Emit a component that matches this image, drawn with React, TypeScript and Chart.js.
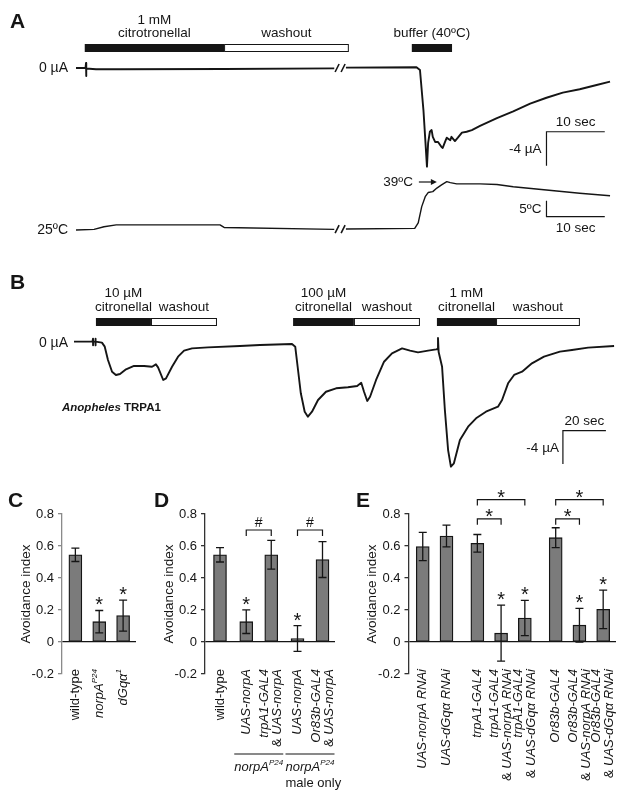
import { useEffect, useRef } from "react";
import { Chart, registerables } from "chart.js";

Chart.register(...registerables);

const FONT = '"Liberation Sans", Arial, Helvetica, sans-serif';
const INK = "#151515";
const BAR_FILL = "#7b7b7b";

// ---------------- Panel A: current (µA) and bath temperature (ºC) vs time (s) ----------------
const timeA = [0, 1.63, 1.72, 1.72, 1.8, 3.43, 7.55, 25.4, 44.3, 45.3, 46.3, 58.4, 59.0, 59.6, 60.2, 60.4, 60.7, 61.0, 61.2, 61.6, 62.1, 62.7, 62.9, 63.3, 63.6, 64.2, 64.4, 65.0, 65.5, 66.2, 67.0, 67.9, 69.3, 72.2, 75.0, 77.9, 80.7, 83.5, 86.4, 89.3, 91.6];
const currentA = [0, 0, 0.59, -0.94, -0.06, -0.14, -0.15, -0.12, -0.04, null, 0.04, 0.08, -0.24, -5.0, -11.6, -8.8, -7.5, -7.3, -8.1, -8.7, -8.7, -9.3, -9.4, -8.7, -8.2, -8.5, -8.1, -8.6, -8.2, -7.6, -7.5, -7.3, -6.8, -5.9, -5.1, -4.2, -3.5, -2.9, -2.5, -2.0, -1.6];
const timeTempA = [0, 3.1, 4.8, 6.9, 24.7, 25.4, 44.3, 45.3, 46.3, 58.1, 58.7, 59.3, 59.9, 60.4, 61.2, 61.9, 62.7, 63.6, 64.2, 65.3, 69.3, 72.2, 75.0, 80.7, 86.4, 91.6];
const tempA = [25, 25.2, 26.0, 26.6, 26.6, 25.8, 25.2, null, 25.3, 25.5, 27.2, 32.3, 35.4, 36.7, 37.0, 38.1, 39.1, 40.1, 39.8, 39.4, 39.4, 39.2, 38.5, 37.5, 36.5, 35.7];
const breakTimeA = [45.3];
const stimStartA = [1.5, 25.4, 57.6];
const stimEndA = [25.4, 46.8, 64.5];
const stimFilledA = [true, false, true];
const stimLabelA = ["1 mM\ncitrotronellal", "washout", "buffer (40ºC)"];

// ---------------- Panel B: Anopheles TRPA1 current (µA) vs time (s) ----------------
const timeB = [0, 8.6, 8.84, 8.84, 8.9, 9.9, 10.0, 10.0, 10.1, 13.0, 14.3, 15.8, 17.7, 19.5, 21.4, 24.2, 27.9, 32.6, 36.3, 38.1, 39.1, 41.5, 42.8, 45.6, 48.4, 51.2, 54.9, 62.3, 77.2, 86.5, 101.4, 102.9, 104.2, 105.5, 107.3, 108.8, 110.7, 113.5, 117.2, 121.9, 127.4, 131.7, 133.6, 134.9, 136.4, 137.7, 140.5, 144.2, 147.9, 152.6, 156.3, 160.0, 164.7, 168.4, 169.1, 169.3, 169.6, 171.2, 172.5, 174.0, 175.3, 176.7, 179.5, 183.3, 187.0, 191.6, 197.2, 199.1, 201.9, 204.7, 208.4, 213.0, 218.6, 226.0, 231.6, 239.1, 251.2];
const currentB = [0.04, 0.04, 0.4, -0.4, 0.04, 0.04, 0.4, -0.4, 0.04, -0.08, -0.56, -2.16, -3.57, -3.96, -3.84, -3.28, -2.88, -2.88, -2.97, -2.68, -3.04, -4.56, -4.36, -2.97, -1.76, -1.04, -0.76, -0.64, -0.48, -0.36, -0.24, -0.56, -3.36, -6.16, -8.37, -8.97, -8.37, -6.96, -5.97, -5.56, -5.44, -5.28, -4.89, -5.97, -7.08, -6.57, -4.56, -2.37, -1.36, -0.76, -1.04, -1.24, -1.04, -0.88, -0.84, 0.48, -1.2, -2.97, -8.16, -12.97, -14.97, -14.56, -11.76, -10.17, -9.16, -8.37, -7.77, -6.96, -4.96, -3.96, -3.57, -2.56, -1.76, -1.16, -0.96, -0.68, -0.48];
const stimStartB = [10.2, 35.8, 101.9, 130.2, 168.8, 196.3];
const stimEndB = [35.8, 66.5, 130.2, 160.9, 196.3, 235.3];
const stimFilledB = [true, false, true, false, true, false];
const stimLabelB = ["10 µM\ncitronellal", "washout", "100 µM\ncitronellal", "washout", "1 mM\ncitronellal", "washout"];

// ---------------- Panel C ----------------
const categoriesC = ["wild-type", "norpA^P24", "dGqα^1"];
const meansC = [0.545, 0.127, 0.165];
const errC = [0.042, 0.07, 0.097];
const sigC = [false, true, true];
const groupsC = [0, 0, 0];

// ---------------- Panel D ----------------
const categoriesD = ["wild-type", "UAS-norpA", "trpA1-GAL4\n& UAS-norpA", "UAS-norpA", "Or83b-GAL4\n& UAS-norpA"];
const meansD = [0.545, 0.127, 0.545, 0.022, 0.515];
const errD = [0.045, 0.074, 0.09, 0.08, 0.112];
const sigD = [false, true, false, true, false];
const groupsD = [0, 1, 1, 2, 2];
const groupLabelD = ["", "norpA^P24", "norpA^P24\nmale only"];
const bracketPairsD = [[1, 2], [3, 4]];
const bracketMarkD = ["#", "#"];
const bracketLevelD = [0.7, 0.7];

// ---------------- Panel E ----------------
const categoriesE = ["UAS-norpA RNAi", "UAS-dGqα RNAi", "trpA1-GAL4", "trpA1-GAL4\n& UAS-norpA RNAi", "trpA1-GAL4\n& UAS-dGqα RNAi", "Or83b-GAL4", "Or83b-GAL4\n& UAS-norpA RNAi", "Or83b-GAL4\n& UAS-dGqα RNAi"];
const meansE = [0.597, 0.662, 0.617, 0.055, 0.15, 0.652, 0.105, 0.204];
const errE = [0.088, 0.068, 0.055, 0.175, 0.11, 0.062, 0.105, 0.12];
const sigE = [false, false, false, true, true, false, true, true];
const groupsE = [0, 0, 1, 1, 1, 2, 2, 2];
const bracketPairsE = [[2, 3], [2, 4], [5, 6], [5, 7]];
const bracketMarkE = ["*", "*", "*", "*"];
const bracketLevelE = [0.77, 0.89, 0.77, 0.89];

// ---------------- helpers ----------------
type Seg = { text: string; italic: boolean; sup: boolean };
const PLAIN = new Set(["wild-type", "&", "male", "only"]);

function fnt(size: number, italic = false, bold = false) {
  return `${italic ? "italic " : ""}${bold ? "bold " : ""}${size}px ${FONT}`;
}

function parseRich(line: string): Seg[] {
  const segs: Seg[] = [];
  line.split(" ").forEach((w, wi) => {
    const plain = PLAIN.has(w);
    const [base, sup] = w.split("^");
    segs.push({ text: (wi > 0 ? " " : "") + base, italic: !plain, sup: false });
    if (sup) segs.push({ text: sup, italic: !plain, sup: true });
  });
  return segs;
}

function drawRich(ctx: any, line: string, x: number, y: number, size: number, align: string) {
  const segs = parseRich(line);
  let total = 0;
  for (const s of segs) {
    ctx.font = fnt(s.sup ? size * 0.62 : size, s.italic);
    total += ctx.measureText(s.text).width;
  }
  let cx = align === "left" ? x : align === "right" ? x - total : x - total / 2;
  ctx.textAlign = "left";
  ctx.textBaseline = "middle";
  for (const s of segs) {
    ctx.font = fnt(s.sup ? size * 0.62 : size, s.italic);
    ctx.fillText(s.text, cx, s.sup ? y - size * 0.36 : y);
    cx += ctx.measureText(s.text).width;
  }
}

function txt(ctx: any, s: string, x: number, y: number, align: string, size = 13.5) {
  ctx.font = fnt(size);
  ctx.textAlign = align;
  ctx.textBaseline = "middle";
  ctx.fillText(s, x, y);
}

function letter(ctx: any, s: string, x: number, baseline: number) {
  ctx.font = fnt(21, false, true);
  ctx.textAlign = "left";
  ctx.textBaseline = "alphabetic";
  ctx.fillText(s, x, baseline);
}

function drawStim(ctx: any, xs: any, starts: number[], ends: number[], filled: boolean[], labels: string[], barTop: number, barH: number, textY: number, lineGap: number) {
  for (let i = 0; i < starts.length; i++) {
    const x0 = xs.getPixelForValue(starts[i]);
    const x1 = xs.getPixelForValue(ends[i]);
    if (filled[i]) {
      ctx.fillStyle = INK;
      ctx.fillRect(x0, barTop, x1 - x0, barH);
    } else {
      ctx.fillStyle = "#fff";
      ctx.fillRect(x0, barTop, x1 - x0, barH);
      ctx.strokeStyle = INK;
      ctx.lineWidth = 1;
      ctx.strokeRect(x0 + 0.5, barTop + 0.5, x1 - x0 - 1, barH - 1);
    }
    ctx.fillStyle = INK;
    const lines = labels[i].split("\n");
    lines.forEach((ln, k) => txt(ctx, ln, (x0 + x1) / 2, textY - (lines.length - 1 - k) * lineGap, "center"));
  }
}

function scaleBar(ctx: any, cx: number, cy: number, hx: number, vy: number) {
  ctx.strokeStyle = INK;
  ctx.lineWidth = 1.2;
  ctx.beginPath();
  ctx.moveTo(hx, cy);
  ctx.lineTo(cx, cy);
  ctx.lineTo(cx, vy);
  ctx.stroke();
}

function slashes(ctx: any, x: number, y: number) {
  ctx.strokeStyle = INK;
  ctx.lineWidth = 1.6;
  ctx.beginPath();
  for (const dx of [-3, 3]) {
    ctx.moveTo(x + dx - 2, y + 4);
    ctx.lineTo(x + dx + 2, y - 4);
  }
  ctx.stroke();
}

function pts(xs: number[], ys: (number | null)[]) {
  return xs.map((x, i) => ({ x, y: ys[i] }));
}

const lineStyle = { borderColor: INK, pointRadius: 0, tension: 0, spanGaps: false, fill: false, borderJoinStyle: "round" };

// ---------------- Panel A ----------------
const pluginA = {
  id: "panelA",
  afterDatasetsDraw(chart: any) {
    const { ctx } = chart;
    const xs = chart.scales.x, yI = chart.scales.yI, yT = chart.scales.yT;
    ctx.save();
    ctx.fillStyle = INK;
    letter(ctx, "A", 10, 28);
    drawStim(ctx, xs, stimStartA, stimEndA, stimFilledA, stimLabelA, 44, 8, 33, 13);
    ctx.fillStyle = INK;
    txt(ctx, "0 µA", xs.getPixelForValue(0) - 8, yI.getPixelForValue(0), "right", 14);
    txt(ctx, "25ºC", xs.getPixelForValue(0) - 8, yT.getPixelForValue(25), "right", 14);
    breakTimeA.forEach((t) => {
      slashes(ctx, xs.getPixelForValue(t), yI.getPixelForValue(0));
      slashes(ctx, xs.getPixelForValue(t), yT.getPixelForValue(25.3));
    });
    // current scale bar: 10 sec, -4 µA
    const cx = xs.getPixelForValue(80.7);
    const hx = xs.getPixelForValue(90.7);
    const cy = yI.getPixelForValue(-7.5);
    const vy = yI.getPixelForValue(-11.5);
    scaleBar(ctx, cx, cy, hx, vy);
    ctx.fillStyle = INK;
    txt(ctx, "10 sec", (cx + hx) / 2, cy - 9, "center");
    txt(ctx, "-4 µA", cx - 5, (cy + vy) / 2 + 1, "right");
    // temperature scale bar: 5ºC, 10 sec
    const ty = yT.getPixelForValue(29.16);
    const tvy = yT.getPixelForValue(34.16);
    scaleBar(ctx, cx, ty, hx, tvy);
    txt(ctx, "5ºC", cx - 5, (ty + tvy) / 2 + 1, "right");
    txt(ctx, "10 sec", (cx + hx) / 2, ty + 11.5, "center");
    // 39ºC arrow
    const ax = xs.getPixelForValue(61.9);
    const ay = yT.getPixelForValue(40);
    txt(ctx, "39ºC", ax - 24, ay + 0.5, "right");
    ctx.strokeStyle = INK;
    ctx.lineWidth = 1.2;
    ctx.beginPath();
    ctx.moveTo(ax - 18, ay);
    ctx.lineTo(ax - 2, ay);
    ctx.stroke();
    ctx.beginPath();
    ctx.moveTo(ax, ay);
    ctx.lineTo(ax - 6, ay - 3);
    ctx.lineTo(ax - 6, ay + 3);
    ctx.closePath();
    ctx.fill();
    ctx.restore();
  },
};

const makeA = () => ({
  type: "line",
  data: {
    datasets: [
      { ...lineStyle, data: pts(timeA, currentA), yAxisID: "yI", borderWidth: 1.9 },
      { ...lineStyle, data: pts(timeTempA, tempA), yAxisID: "yT", borderWidth: 1.4 },
    ],
  },
  options: {
    responsive: false,
    animation: false,
    devicePixelRatio: 1,
    events: [],
    layout: { padding: 0 },
    plugins: { legend: { display: false }, tooltip: { enabled: false } },
    scales: {
      x: { type: "linear", display: false, offset: false, min: -76 / 5.83, max: (627 - 76) / 5.83 },
      yI: { type: "linear", display: false, min: -(260 - 68) / 8.5, max: 68 / 8.5 },
      yT: { type: "linear", display: false, min: 25 - 30 / 3.2, max: 25 + 230 / 3.2 },
    },
  },
  plugins: [pluginA],
});

// ---------------- Panel B ----------------
const pluginB = {
  id: "panelB",
  afterDatasetsDraw(chart: any) {
    const { ctx } = chart;
    const xs = chart.scales.x, yI = chart.scales.yI;
    ctx.save();
    ctx.fillStyle = INK;
    letter(ctx, "B", 10, 29);
    drawStim(ctx, xs, stimStartB, stimEndB, stimFilledB, stimLabelB, 58, 8, 47, 14);
    ctx.fillStyle = INK;
    txt(ctx, "0 µA", xs.getPixelForValue(0) - 6, yI.getPixelForValue(0) + 1, "right", 14);
    // Anopheles TRPA1
    ctx.textBaseline = "middle";
    ctx.textAlign = "left";
    ctx.font = fnt(11.5, true, true);
    ctx.fillText("Anopheles", 62, 148);
    const w = ctx.measureText("Anopheles").width;
    ctx.font = fnt(11.5, false, true);
    ctx.fillText(" TRPA1", 62 + w, 148);
    // scale bar: 20 sec, -4 µA
    const cx = xs.getPixelForValue(227.4);
    const hx = xs.getPixelForValue(247.4);
    const cy = yI.getPixelForValue(-10.65);
    const vy = yI.getPixelForValue(-14.65);
    scaleBar(ctx, cx, cy, hx, vy);
    ctx.fillStyle = INK;
    txt(ctx, "20 sec", (cx + hx) / 2, cy - 9.5, "center");
    txt(ctx, "-4 µA", cx - 4, (cy + vy) / 2 + 1, "right");
    ctx.restore();
  },
};

const makeB = () => ({
  type: "line",
  data: {
    datasets: [{ ...lineStyle, data: pts(timeB, currentB), yAxisID: "yI", borderWidth: 1.9 }],
  },
  options: {
    responsive: false,
    animation: false,
    devicePixelRatio: 1,
    events: [],
    layout: { padding: 0 },
    plugins: { legend: { display: false }, tooltip: { enabled: false } },
    scales: {
      x: { type: "linear", display: false, offset: false, min: -74 / 2.15, max: (627 - 74) / 2.15 },
      yI: { type: "linear", display: false, min: -(215 - 82) / 8.33, max: 82 / 8.33 },
    },
  },
  plugins: [pluginB],
});

// ---------------- bar panels ----------------
type BarPanel = {
  letter: string;
  letterX: number;
  categories: string[];
  means: number[];
  errs: number[];
  sig: boolean[];
  groups: number[];
  gap: number;
  xMin: number;
  xMax: number;
  padLeft: number;
  padRight: number;
  axisColor: string;
  bracketPairs?: number[][];
  bracketMarks?: string[];
  bracketLevels?: number[];
  groupLabels?: string[];
};

function positionsOf(groups: number[], gap: number) {
  return groups.map((g, i) => i + g * gap);
}

function star(ctx: any, x: number, cy: number) {
  const size = 20;
  ctx.font = fnt(size);
  ctx.textAlign = "center";
  ctx.textBaseline = "alphabetic";
  ctx.fillText("*", x, cy + 0.575 * size);
}

function barPlugin(p: BarPanel) {
  return {
    id: "bars" + p.letter,
    afterDatasetsDraw(chart: any) {
      const { ctx } = chart;
      const xs = chart.scales.x, ys = chart.scales.y;
      const pos = positionsOf(p.groups, p.gap);
      const px = pos.map((v) => xs.getPixelForValue(v));
      ctx.save();
      ctx.strokeStyle = INK;
      ctx.fillStyle = INK;
      // error bars + significance stars
      px.forEach((x, i) => {
        const yTop = ys.getPixelForValue(p.means[i] + p.errs[i]);
        const yBot = ys.getPixelForValue(p.means[i] - p.errs[i]);
        ctx.lineWidth = 1.3;
        ctx.beginPath();
        ctx.moveTo(x, yTop);
        ctx.lineTo(x, yBot);
        ctx.moveTo(x - 4, yTop);
        ctx.lineTo(x + 4, yTop);
        ctx.moveTo(x - 4, yBot);
        ctx.lineTo(x + 4, yBot);
        ctx.stroke();
        if (p.sig[i]) star(ctx, x, yTop - 10.5);
      });
      // comparison brackets
      (p.bracketPairs || []).forEach((pr, k) => {
        const x0 = px[pr[0]], x1 = px[pr[1]];
        const y = ys.getPixelForValue((p.bracketLevels as number[])[k]);
        ctx.lineWidth = 1.2;
        ctx.beginPath();
        ctx.moveTo(x0, y + 6);
        ctx.lineTo(x0, y);
        ctx.lineTo(x1, y);
        ctx.lineTo(x1, y + 6);
        ctx.stroke();
        const mark = (p.bracketMarks as string[])[k];
        if (mark === "*") star(ctx, (x0 + x1) / 2, y - 7.5);
        else {
          ctx.font = fnt(14);
          ctx.textAlign = "center";
          ctx.textBaseline = "alphabetic";
          ctx.fillText(mark, (x0 + x1) / 2, y - 8.5 + 5);
        }
      });
      // rotated category labels
      const topY = 199;
      p.categories.forEach((cat, i) => {
        const lines = cat.split("\n");
        ctx.save();
        ctx.translate(px[i], topY);
        ctx.rotate(-Math.PI / 2);
        lines.forEach((ln, k) => {
          drawRich(ctx, ln, 0, (k - (lines.length - 1) / 2) * 13, 13, "right");
        });
        ctx.restore();
      });
      // group underlines
      (p.groupLabels || []).forEach((gl, g) => {
        if (!gl) return;
        const idx = p.groups.map((gg, i) => (gg === g ? i : -1)).filter((i) => i >= 0);
        const x0 = px[idx[0]] - 12;
        const x1 = px[idx[idx.length - 1]] + 12;
        ctx.lineWidth = 1.1;
        ctx.beginPath();
        ctx.moveTo(x0, 284);
        ctx.lineTo(x1, 284);
        ctx.stroke();
        gl.split("\n").forEach((ln, k) => drawRich(ctx, ln, x0, 297 + k * 16, 13, "left"));
      });
      letter(ctx, p.letter, p.letterX, 37);
      ctx.restore();
    },
  };
}

function makeBar(p: BarPanel) {
  const pos = positionsOf(p.groups, p.gap);
  return () => ({
    type: "bar",
    data: {
      datasets: [
        {
          data: pos.map((x, i) => ({ x, y: p.means[i] })),
          backgroundColor: BAR_FILL,
          borderColor: INK,
          borderWidth: 1.3,
          borderSkipped: false,
          barThickness: 13,
        },
      ],
    },
    options: {
      responsive: false,
      animation: false,
      devicePixelRatio: 1,
      events: [],
      layout: { padding: { left: p.padLeft, right: p.padRight, top: 44, bottom: 123 } },
      plugins: { legend: { display: false }, tooltip: { enabled: false } },
      scales: {
        x: { type: "linear", display: false, offset: false, grid: { offset: false }, min: p.xMin, max: p.xMax },
        y: {
          type: "linear",
          min: -0.2,
          max: 0.8,
          afterFit: (s: any) => {
            s.width = 62;
          },
          ticks: { stepSize: 0.2, font: { family: FONT, size: 13 }, color: INK, padding: 4 },
          grid: {
            drawOnChartArea: true,
            drawTicks: true,
            tickLength: 4,
            tickColor: p.axisColor,
            lineWidth: 1.3,
            color: (c: any) => (c.tick && Math.abs(c.tick.value) < 1e-9 ? INK : "rgba(0,0,0,0)"),
          },
          border: { display: true, color: p.axisColor, width: 1.3 },
          title: {
            display: true,
            text: "Avoidance index",
            color: INK,
            font: { family: FONT, size: 13.5 },
            padding: { top: 18, bottom: 0 },
          },
        },
      },
    },
    plugins: [barPlugin(p)],
  });
}

const panelC: BarPanel = {
  letter: "C", letterX: 8, categories: categoriesC, means: meansC, errs: errC, sig: sigC, groups: groupsC,
  gap: 0, xMin: -0.56, xMax: 2.54, padLeft: 0, padRight: 491, axisColor: "#8a8a8a",
};
const panelD: BarPanel = {
  letter: "D", letterX: 154, categories: categoriesD, means: meansD, errs: errD, sig: sigD, groups: groupsD,
  gap: 0.05, xMin: -0.6, xMax: 4.6, padLeft: 143, padRight: 292, axisColor: "#333",
  bracketPairs: bracketPairsD, bracketMarks: bracketMarkD, bracketLevels: bracketLevelD, groupLabels: groupLabelD,
};
const panelE: BarPanel = {
  letter: "E", letterX: 356, categories: categoriesE, means: meansE, errs: errE, sig: sigE, groups: groupsE,
  gap: 0.3, xMin: -0.6, xMax: 8.14, padLeft: 346.5, padRight: 11, axisColor: "#333",
  bracketPairs: bracketPairsE, bracketMarks: bracketMarkE, bracketLevels: bracketLevelE,
};

function ChartBox({ top, height, make }: { top: number; height: number; make: () => any }) {
  const ref = useRef<HTMLCanvasElement | null>(null);
  useEffect(() => {
    const chart = new Chart(ref.current as HTMLCanvasElement, make());
    return () => chart.destroy();
  }, []);
  return (
    <canvas
      ref={ref}
      width={627}
      height={height}
      style={{ position: "absolute", left: 0, top, width: 627, height }}
    />
  );
}

export default function App() {
  useEffect(() => {
    document.body.style.margin = "0";
  }, []);
  return (
    <div style={{ position: "absolute", left: 0, top: 0, width: 627, height: 797, background: "#fff", overflow: "hidden" }}>
      <ChartBox top={0} height={260} make={makeA} />
      <ChartBox top={260} height={215} make={makeB} />
      <ChartBox top={470} height={327} make={makeBar(panelC)} />
      <ChartBox top={470} height={327} make={makeBar(panelD)} />
      <ChartBox top={470} height={327} make={makeBar(panelE)} />
    </div>
  );
}
